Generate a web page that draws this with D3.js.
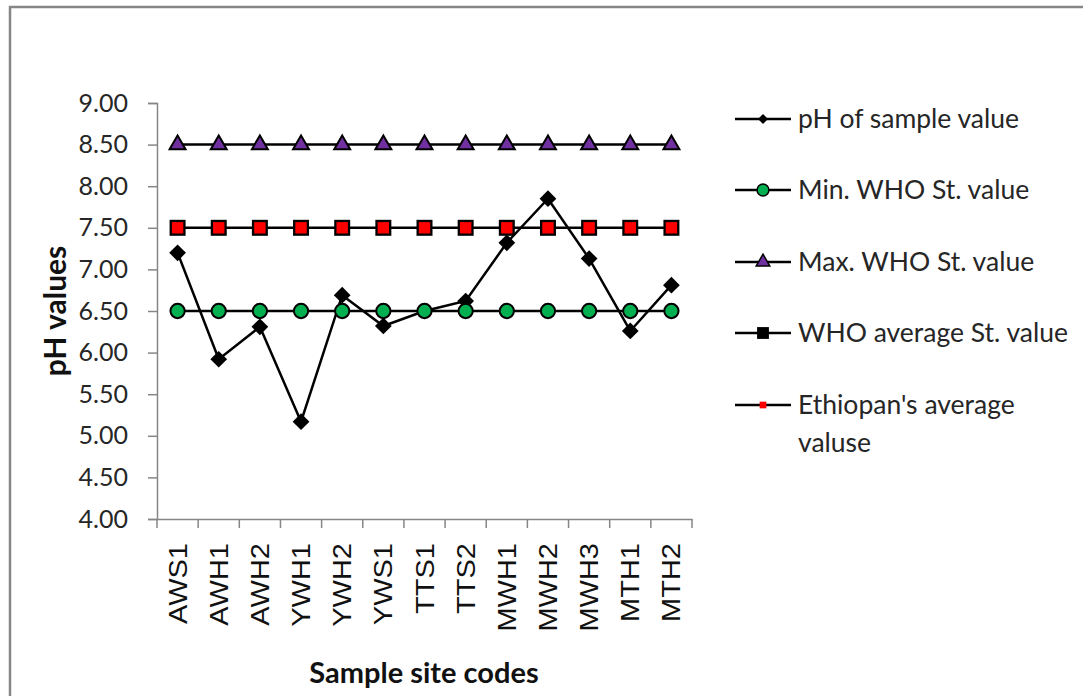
<!DOCTYPE html>
<html>
<head>
<meta charset="utf-8">
<script src="https://cdn.jsdelivr.net/npm/d3@7"></script>
<style>
  html, body { margin: 0; padding: 0; background: #fff; }
  svg { display: block; }
</style>
</head>
<body>
<div id="chart"></div>
<script>
// Sample site codes
const categories = ['AWS1', 'AWH1', 'AWH2', 'YWH1', 'YWH2', 'YWS1', 'TTS1', 'TTS2', 'MWH1', 'MWH2', 'MWH3', 'MTH1', 'MTH2'];

// pH readings per site
const phSample = [7.20, 5.92, 6.31, 5.17, 6.69, 6.32, 6.50, 6.62, 7.32, 7.85, 7.13, 6.26, 6.81];
const minWho = [6.5, 6.5, 6.5, 6.5, 6.5, 6.5, 6.5, 6.5, 6.5, 6.5, 6.5, 6.5, 6.5];
const maxWho = [8.5, 8.5, 8.5, 8.5, 8.5, 8.5, 8.5, 8.5, 8.5, 8.5, 8.5, 8.5, 8.5];
const whoAverage = [7.5, 7.5, 7.5, 7.5, 7.5, 7.5, 7.5, 7.5, 7.5, 7.5, 7.5, 7.5, 7.5];
const ethiopiaAverage = [7.5, 7.5, 7.5, 7.5, 7.5, 7.5, 7.5, 7.5, 7.5, 7.5, 7.5, 7.5, 7.5];

const yTicks = [4, 4.5, 5, 5.5, 6, 6.5, 7, 7.5, 8, 8.5, 9];

const legendLabels = [
  ['pH of sample value'],
  ['Min. WHO St. value'],
  ['Max. WHO St. value'],
  ['WHO average St. value'],
  ["Ethiopan's average", 'valuse']
];

// Chart dimensions
const width = 1083;
const height = 696;
const plot = { left: 157, right: 692, top: 103, bottom: 519 };
const axisColor = '#868686';
const textColor = '#262626';
const font = 'Lato, "Open Sans", sans-serif';

const svg = d3.select('#chart')
  .append('svg')
  .attr('width', width)
  .attr('height', height);

// Outer frame (cut off on the right and bottom)
svg.append('rect')
  .attr('x', 10)
  .attr('y', 7)
  .attr('width', width + 20)
  .attr('height', height + 20)
  .attr('fill', '#fff')
  .attr('stroke', axisColor)
  .attr('stroke-width', 2.5);

// Scales
const xScale = d3.scaleBand()
  .domain(categories)
  .range([plot.left, plot.right])
  .padding(0);

const yScale = d3.scaleLinear()
  .domain([4, 9])
  .range([plot.bottom, plot.top]);

const cx = d => xScale(d) + xScale.bandwidth() / 2;

// Y axis
const yAxis = svg.append('g')
  .attr('transform', `translate(${plot.left}, 0)`)
  .call(d3.axisLeft(yScale)
    .tickValues(yTicks)
    .tickSize(9)
    .tickPadding(20)
    .tickFormat(d3.format('.2f')));

yAxis.select('.domain').attr('stroke', axisColor).attr('stroke-width', 1.5);
yAxis.selectAll('.tick line').attr('stroke', axisColor).attr('stroke-width', 1.5);
yAxis.selectAll('.tick text')
  .style('font-family', font)
  .style('font-size', '25px')
  .attr('fill', textColor);

// X axis: line, ticks at band edges, rotated labels
const xAxis = svg.append('g')
  .attr('transform', `translate(0, ${plot.bottom})`)
  .call(d3.axisBottom(xScale).tickSize(0).tickPadding(0));

xAxis.select('.domain').attr('stroke', axisColor).attr('stroke-width', 1.5);

xAxis.selectAll('.edge')
  .data(categories.map(c => xScale(c)).concat([plot.right]))
  .enter()
  .append('line')
  .attr('class', 'edge')
  .attr('x1', d => d)
  .attr('x2', d => d)
  .attr('y1', 0)
  .attr('y2', 9)
  .attr('stroke', axisColor)
  .attr('stroke-width', 1.5);

xAxis.selectAll('.tick text')
  .attr('transform', 'translate(0, 24) rotate(-90) scale(1.16, 1)')
  .attr('x', 0)
  .attr('y', 0)
  .attr('dy', '0.36em')
  .style('text-anchor', 'end')
  .style('font-family', '"Liberation Sans", Arial, sans-serif')
  .style('font-size', '25px')
  .attr('fill', '#111');

// Axis titles
svg.append('text')
  .attr('transform', `translate(66, ${(plot.top + plot.bottom) / 2}) rotate(-90)`)
  .attr('text-anchor', 'middle')
  .style('font-family', font)
  .style('font-size', '30px')
  .style('font-weight', 'bold')
  .attr('fill', '#111')
  .text('pH values');

svg.append('text')
  .attr('x', 424)
  .attr('y', 683)
  .attr('text-anchor', 'middle')
  .style('font-family', font)
  .style('font-size', '29px')
  .style('font-weight', 'bold')
  .attr('fill', '#111')
  .text('Sample site codes');

// Marker drawing helpers
const symbolPath = (type, size) => d3.symbol().type(type).size(size)();

function drawSeries(values, opts) {
  const line = d3.line()
    .x((d, i) => cx(categories[i]))
    .y(d => yScale(d));

  if (opts.line) {
    svg.append('path')
      .datum(values)
      .attr('d', line)
      .attr('fill', 'none')
      .attr('stroke', '#000')
      .attr('stroke-width', 2.5);
  }

  svg.append('g')
    .selectAll('path')
    .data(values)
    .enter()
    .append('path')
    .attr('transform', (d, i) => `translate(${cx(categories[i])}, ${yScale(d)})${opts.rotate ? ' rotate(45)' : ''}`)
    .attr('d', symbolPath(opts.type, opts.size))
    .attr('fill', opts.fill)
    .attr('stroke', opts.stroke || 'none')
    .attr('stroke-width', opts.strokeWidth || 0);
}

const seriesStyles = [
  { values: phSample, type: d3.symbolSquare, size: 140, rotate: true, fill: '#000', line: true },
  { values: minWho, type: d3.symbolCircle, size: 160, fill: '#00b050', stroke: '#000', strokeWidth: 2, line: true },
  { values: maxWho, type: d3.symbolTriangle, size: 110, fill: '#7030a0', stroke: '#000', strokeWidth: 2, line: true },
  { values: whoAverage, type: d3.symbolSquare, size: 256, fill: '#000', line: true },
  { values: ethiopiaAverage, type: d3.symbolSquare, size: 130, fill: '#ff0000', line: false }
];

seriesStyles.forEach(s => drawSeries(s.values, s));

// Legend
const legendRows = [119, 190, 262, 333, 405];
const legendMarkers = [
  { type: d3.symbolSquare, size: 50, rotate: true, fill: '#000' },
  { type: d3.symbolCircle, size: 110, fill: '#00b050', stroke: '#000', strokeWidth: 1.5 },
  { type: d3.symbolTriangle, size: 80, fill: '#7030a0', stroke: '#000', strokeWidth: 1.5 },
  { type: d3.symbolSquare, size: 140, fill: '#000' },
  { type: d3.symbolSquare, size: 45, fill: '#ff0000' }
];

const legend = svg.append('g');

legendLabels.forEach((lines, i) => {
  const y = legendRows[i];
  const m = legendMarkers[i];
  legend.append('line')
    .attr('x1', 735)
    .attr('x2', 791)
    .attr('y1', y)
    .attr('y2', y)
    .attr('stroke', '#000')
    .attr('stroke-width', 2.5);
  legend.append('path')
    .attr('transform', `translate(763, ${y})${m.rotate ? ' rotate(45)' : ''}`)
    .attr('d', symbolPath(m.type, m.size))
    .attr('fill', m.fill)
    .attr('stroke', m.stroke || 'none')
    .attr('stroke-width', m.strokeWidth || 0);
  lines.forEach((t, j) => {
    legend.append('text')
      .attr('x', 798)
      .attr('y', y + j * 38)
      .attr('dy', '0.35em')
      .style('font-family', font)
      .style('font-size', '26.5px')
      .attr('fill', textColor)
      .text(t);
  });
});
</script>
</body>
</html>
